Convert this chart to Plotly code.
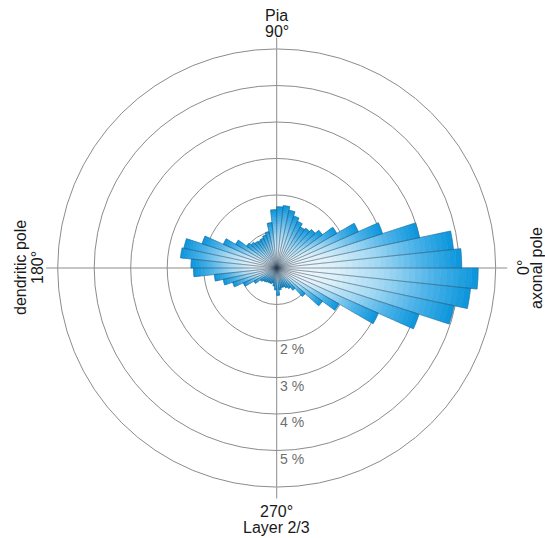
import numpy as np
import plotly.graph_objects as go

# Orientation histogram: 6-degree bins, share of segments in percent
bin_centers = [3 + 6 * i for i in range(60)]
percent = [
    5.07, 4.87, 4.00, 3.05, 2.45, 1.90, 1.55, 1.42, 1.35, 1.30,
    1.40, 1.50, 1.62, 1.72, 1.68, 1.60, 1.25, 1.02, 0.95, 0.90,
    0.88, 0.90, 0.95, 1.02, 1.30, 1.60, 2.15, 2.60, 2.65, 2.35,
    2.28, 1.72, 1.50, 1.27, 1.00, 0.72, 0.55, 0.50, 0.48, 0.45,
    0.45, 0.45, 0.42, 0.50, 0.60, 0.75, 0.60, 0.55, 0.55, 0.60,
    0.65, 0.75, 1.05, 1.55, 1.97, 3.05, 4.10, 4.97, 5.34, 5.52,
]
ring_values = [1, 2, 3, 4, 5]
ring_labels = ["2 %", "3 %", "4 %", "5 %"]
labelled_rings = [2, 3, 4, 5]
r_max = 6

W, H = 545, 538
cx, cy, R = 276.7, 268.0, 219.0  # polar centre and radius in pixels
px_per_unit = R / r_max

vals = np.array(percent)

# colour ramp along each bar: pale at the centre, saturated blue at the tip
stops = [
    (0.00, (252, 253, 254)),
    (0.30, (222, 241, 250)),
    (0.55, (160, 215, 243)),
    (0.80, (70, 176, 231)),
    (1.00, (10, 149, 220)),
]


def ramp(t):
    for (t0, c0), (t1, c1) in zip(stops[:-1], stops[1:]):
        if t <= t1:
            f = (t - t0) / (t1 - t0)
            return "rgb(%d,%d,%d)" % tuple(round(a + (b - a) * f) for a, b in zip(c0, c1))
    return "rgb(%d,%d,%d)" % stops[-1][1]


fig = go.Figure()
n_steps = 32
for k in range(n_steps):
    col = ramp((k + 0.5) / n_steps)
    fig.add_trace(go.Barpolar(
        r=vals / n_steps,
        base=vals * k / n_steps,
        theta=bin_centers,
        width=[6] * len(bin_centers),
        marker=dict(color=col, line=dict(color=col, width=0.6)),
        hoverinfo="skip",
        showlegend=False,
    ))

# outlines of each wedge
fig.add_trace(go.Barpolar(
    r=vals,
    theta=bin_centers,
    width=[6] * len(bin_centers),
    marker=dict(color="rgba(0,0,0,0)", line=dict(color="rgba(55,75,95,0.6)", width=0.5)),
    showlegend=False,
))

grid_col = "#8c8c8c"
fig.update_layout(
    width=W, height=H,
    margin=dict(l=0, r=0, t=0, b=0),
    paper_bgcolor="white",
    showlegend=False,
    polar=dict(
        domain=dict(x=[(cx - R) / W, (cx + R) / W], y=[(H - cy - R) / H, (H - cy + R) / H]),
        bgcolor="white",
        bargap=0,
        radialaxis=dict(
            range=[0, r_max], tickvals=ring_values, showticklabels=False,
            ticks="", showline=False, gridcolor=grid_col, gridwidth=1,
            layer="below traces",
        ),
        angularaxis=dict(
            rotation=0, direction="counterclockwise",
            tickvals=[0, 90, 180, 270], showticklabels=False,
            ticks="outside", ticklen=11, tickcolor=grid_col, tickwidth=1,
            showline=True, linecolor=grid_col, linewidth=1,
            gridcolor=grid_col, gridwidth=1, layer="below traces",
        ),
    ),
)

font = dict(family="Liberation Sans, Arial, sans-serif", size=16, color="#1a1a1a")
# (text, x px, y px, rotation)
side_labels = [
    ("Pia", cx, 15, 0),
    ("90°", cx, 31, 0),
    ("270°", cx, 511, 0),
    ("Layer 2/3", cx, 527, 0),
    ("dendritic pole", 20, cy, -90),
    ("180°", 37, cy, -90),
    ("0°", 523, cy, -90),
    ("axonal pole", 536, cy, -90),
]
ann = []
for text, x, y, rot in side_labels:
    ann.append(dict(text=text, x=x / W, y=1 - y / H, textangle=rot,
                    xanchor="center", yanchor="middle",
                    xref="paper", yref="paper", showarrow=False, font=font))

# ring labels along the 270° direction, just below each ring
for v, lab in zip(labelled_rings, ring_labels):
    ann.append(dict(
        text=lab, xref="paper", yref="paper", showarrow=False,
        x=(cx + 1) / W, y=1 - (cy + v * px_per_unit + 8) / H,
        xanchor="left", yanchor="middle",
        font=dict(family="Liberation Sans, Arial, sans-serif", size=14, color="#6e6e6e"),
    ))
fig.update_layout(annotations=ann)

fig.write_html("out.html")
